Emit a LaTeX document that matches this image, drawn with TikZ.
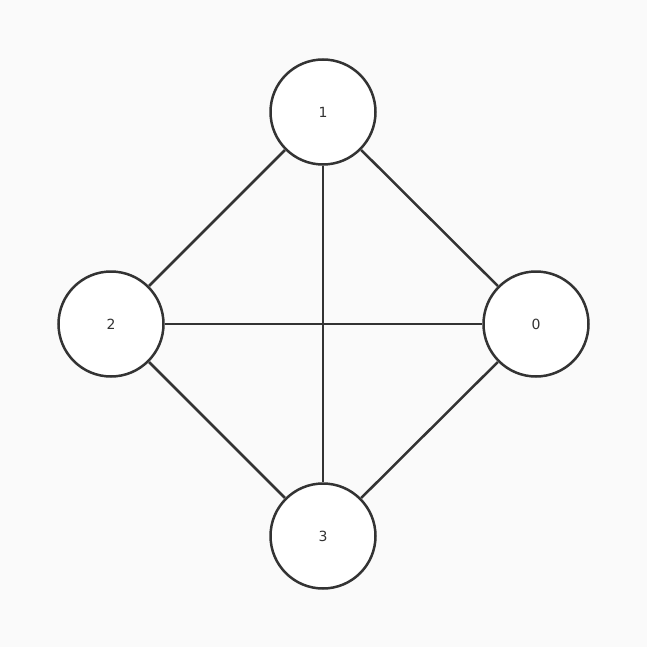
\documentclass[tikz,border=0pt]{standalone}
\usepackage{fontspec}
\setmainfont{DejaVu Sans}
\definecolor{bg}{HTML}{FAFAFA}
\definecolor{ln}{HTML}{333333}
\begin{document}
\begin{tikzpicture}[x=1pt,y=-1pt,
  vtx/.style={circle,draw=ln,fill=white,line width=2.5pt,minimum size=105pt,inner sep=0pt,font=\fontsize{14pt}{16pt}\selectfont,text=ln},
  edge/.style={draw=ln,line width=2.5pt}]
\fill[bg] (0,0) rectangle (647,647);
\useasboundingbox (0,0) rectangle (647,647);
\node[vtx] (n1) at (323,112) {1};
\node[vtx] (n2) at (111,324) {2};
\node[vtx] (n0) at (536,324) {0};
\node[vtx] (n3) at (323,536) {3};
\draw[edge] (n1) -- (n2);
\draw[edge] (n1) -- (n0);
\draw[edge] (n1) -- (n3);
\draw[edge] (n2) -- (n0);
\draw[edge] (n2) -- (n3);
\draw[edge] (n0) -- (n3);
\end{tikzpicture}
\end{document}
